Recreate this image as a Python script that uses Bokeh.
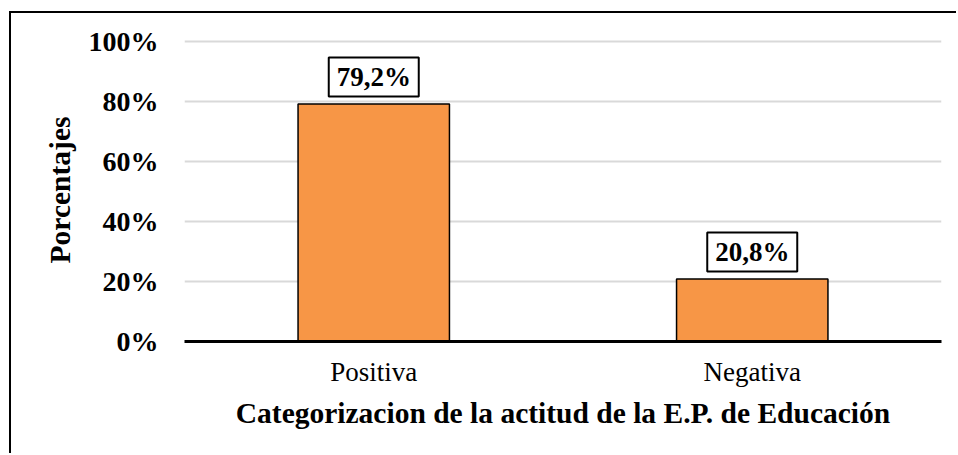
from bokeh.plotting import figure
from bokeh.models import ColumnDataSource, LabelSet, FixedTicker, PrintfTickFormatter, Range1d, FactorRange
from bokeh.embed import file_html
from bokeh.resources import INLINE

categories = ["Positiva", "Negativa"]
percentages = [79.2, 20.8]
value_labels = ["79,2%", "20,8%"]
y_ticks = [0, 20, 40, 60, 80, 100]

LABEL_LIFT = 9.0  # box centre above the bar top, in axis units
src = ColumnDataSource(dict(cat=categories, pct=percentages, lbl=value_labels,
                            box_y=[v + LABEL_LIFT for v in percentages]))

p = figure(
    x_range=FactorRange(*categories, range_padding=0),
    y_range=Range1d(0, 101),
    width=947, height=442,
    output_backend="svg", toolbar_location=None,
    min_border_left=173, min_border_right=17, min_border_top=25, min_border_bottom=114,
)
p.margin = (11, 0, 0, 9)
p.styles = {"border-left": "2px solid black", "border-top": "2px solid black"}
p.outline_line_color = None
p.background_fill_color = "white"
p.border_fill_color = "white"

p.vbar(x="cat", top="pct", width=0.4, source=src,
       fill_color="#F79646", line_color="black", line_width=1.5)

p.rect(x="cat", y="box_y", width=90, height=39, width_units="screen", height_units="screen",
       source=src, fill_color="white", line_color="black", line_width=2)

labels = LabelSet(x="cat", y="box_y", text="lbl", source=src,
                  text_align="center", text_baseline="middle", y_offset=0,
                  text_font="Liberation Serif", text_font_style="bold", text_font_size="27px",
                  text_color="black")
p.add_layout(labels)

p.xgrid.grid_line_color = None
p.ygrid.grid_line_color = "#d9d9d9"
p.ygrid.grid_line_width = 2

p.yaxis.ticker = FixedTicker(ticks=y_ticks)
p.yaxis.formatter = PrintfTickFormatter(format="%d%%")
p.yaxis.axis_line_color = None
p.yaxis.major_tick_line_color = None
p.yaxis.minor_tick_line_color = None
p.yaxis.major_label_text_font = "Liberation Serif"
p.yaxis.major_label_text_font_style = "bold"
p.yaxis.major_label_text_font_size = "28px"
p.yaxis.major_label_text_color = "black"
p.yaxis.major_label_standoff = 20
p.yaxis.axis_label = "Porcentajes"
p.yaxis.axis_label_text_font = "Liberation Serif"
p.yaxis.axis_label_text_font_style = "bold"
p.yaxis.axis_label_text_font_size = "29.5px"
p.yaxis.axis_label_text_color = "black"
p.yaxis.axis_label_standoff = 10

p.xaxis.axis_line_color = "black"
p.xaxis.axis_line_width = 3
p.xaxis.major_tick_line_color = None
p.xaxis.minor_tick_line_color = None
p.xaxis.major_label_text_font = "Liberation Serif"
p.xaxis.major_label_text_font_size = "27px"
p.xaxis.major_label_text_color = "black"
p.xaxis.major_label_standoff = 9
p.xaxis.axis_label = "Categorizacion de la actitud de la E.P. de Educación"
p.xaxis.axis_label_text_font = "Liberation Serif"
p.xaxis.axis_label_text_font_style = "bold"
p.xaxis.axis_label_text_font_size = "29.5px"
p.xaxis.axis_label_text_color = "black"
p.xaxis.axis_label_standoff = 7

open("out.html", "w").write(file_html(p, INLINE))
